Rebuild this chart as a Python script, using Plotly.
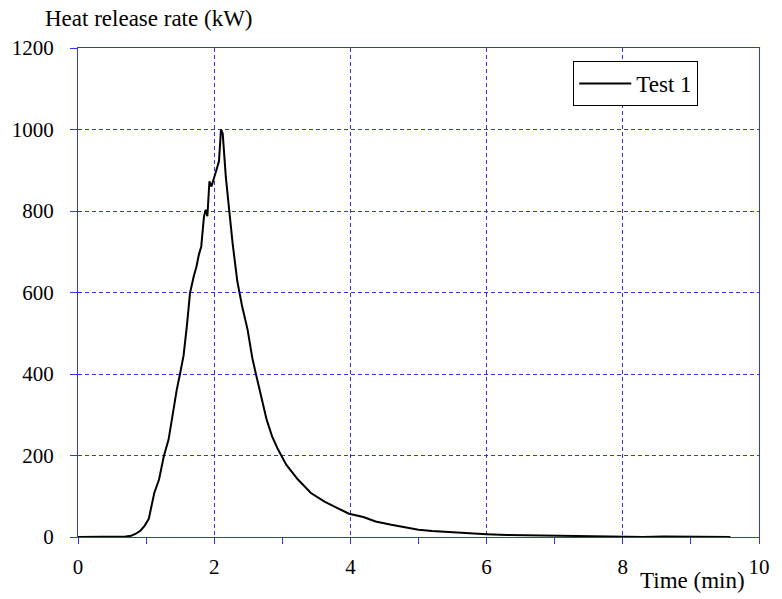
import plotly.graph_objects as go

# Time (min) and heat release rate (kW)
time_min = [0.0, 0.2, 0.4, 0.6, 0.7, 0.78, 0.85, 0.92, 0.98, 1.04, 1.08, 1.12, 1.19, 1.26, 1.33,
            1.40, 1.45, 1.50, 1.55, 1.60, 1.645, 1.70, 1.74, 1.775, 1.81, 1.85, 1.875, 1.90,
            1.93, 1.96, 2.005, 2.04, 2.07, 2.10, 2.125, 2.15, 2.17, 2.22, 2.27, 2.34, 2.41,
            2.49, 2.56, 2.61, 2.68, 2.77, 2.85, 2.94, 3.06, 3.23, 3.42, 3.62, 3.81, 3.98,
            4.19, 4.37, 4.6, 4.8, 5.0, 5.2, 5.4, 5.6, 5.8, 6.0, 6.3, 6.6, 7.0, 7.3, 7.6,
            8.0, 8.3, 8.6, 9.0, 9.3, 9.58]
hrr_kw = [0, 0, 0, 0, 1, 3, 8, 16, 28, 45, 75, 108, 141, 198, 239,
          312, 361, 402, 445, 520, 599, 640, 664, 693, 713, 787, 803, 787,
          873, 860, 889, 905, 922, 1000, 990, 930, 885, 803, 721, 627, 566,
          509, 439, 402, 353, 288, 247, 214, 177, 141, 108, 87, 71, 57,
          49, 38, 30, 24, 18, 15, 13, 11, 8, 7, 5, 4, 3, 3, 1,
          1, 0, 1, 1, 0, 0]

x_ticks = [0, 2, 4, 6, 8, 10]
y_ticks = [0, 200, 400, 600, 800, 1000, 1200]

BLUE = "#3434ea"
FONT = "Liberation Serif"
FS = 21      # tick labels
FS2 = 23     # titles and legend

W, H = 782, 599
L, R, T, B = 76, 13, 48, 62
PW, PH = W - L - R, H - T - B


def px_to_paper(px, py):
    return (px - L) / PW, 1 - (py - T) / PH


fig = go.Figure()
fig.add_trace(go.Scatter(x=time_min, y=hrr_kw, mode="lines", name="Test 1",
                         line=dict(color="black", width=2)))

lx, ly = px_to_paper(580, 61)
ax1, ay1 = px_to_paper(40, 19)
ax2, ay2 = px_to_paper(701, 580)

fig.update_layout(
    width=W, height=H,
    margin=dict(l=L, r=R, t=T, b=B),
    paper_bgcolor="white", plot_bgcolor="white",
    font=dict(family=FONT, size=FS, color="black"),
    showlegend=True,
    legend=dict(x=lx, y=ly, xanchor="left", yanchor="top",
                bordercolor="black", borderwidth=1, bgcolor="white",
                itemwidth=52, tracegroupgap=0,
                font=dict(family=FONT, size=FS2)),
    xaxis=dict(range=[0, 10], tickvals=x_ticks, showgrid=True,
               gridcolor=BLUE, griddash="4px,3px", gridwidth=1,
               showline=True, linecolor=BLUE, linewidth=1, mirror=True,
               ticks="outside", ticklen=6, tickcolor=BLUE,
               minor=dict(dtick=1, ticks="outside", ticklen=6, tickcolor=BLUE, showgrid=False),
               zeroline=False, ticklabelstandoff=5,
               tickfont=dict(family=FONT, size=FS)),
    yaxis=dict(range=[0, 1200], tickvals=y_ticks, showgrid=True,
               gridcolor=BLUE, griddash="4px,3px", gridwidth=1,
               showline=True, linecolor=BLUE, linewidth=1, mirror=True,
               ticks="outside", ticklen=7, tickcolor=BLUE,
               zeroline=False, ticklabelstandoff=12,
               tickfont=dict(family=FONT, size=FS)),
    annotations=[
        dict(text="Heat release rate (kW)", x=ax1, y=ay1, xref="paper", yref="paper",
             showarrow=False, xanchor="left", yanchor="middle",
             font=dict(family=FONT, size=FS2)),
        dict(text="Time (min)", x=ax2, y=ay2, xref="paper", yref="paper",
             showarrow=False, xanchor="center", yanchor="middle",
             font=dict(family=FONT, size=FS2)),
    ],
)

fig.write_html("out.html")
